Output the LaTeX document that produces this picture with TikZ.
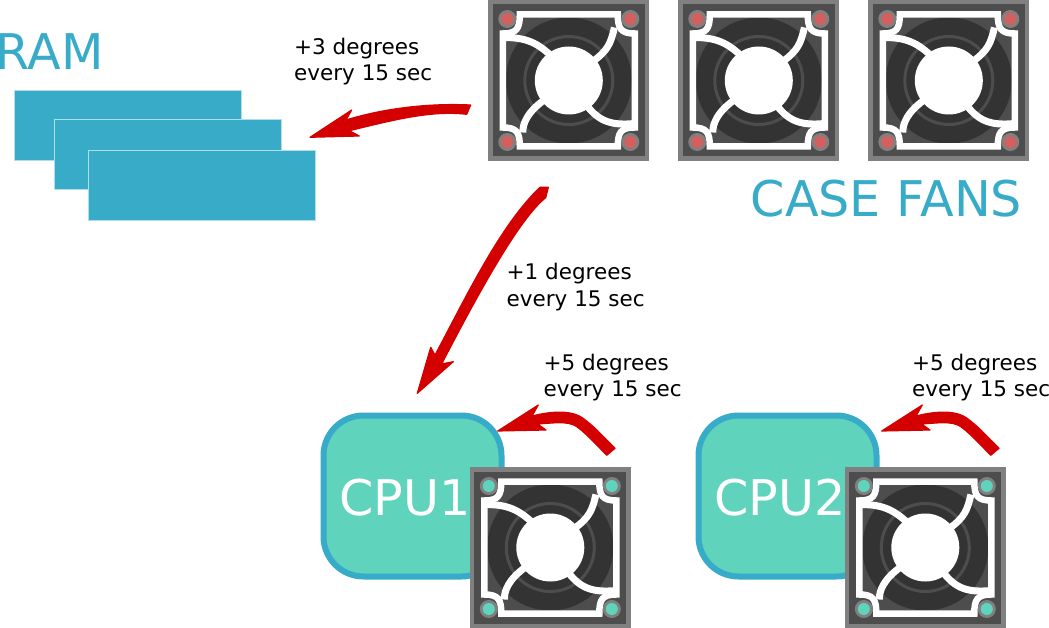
\documentclass[tikz,border=0pt]{standalone}
\usepackage{fontspec}
\setmainfont{DejaVu Sans}
\definecolor{hotred}{HTML}{D40000}
\definecolor{ramblue}{HTML}{37ABC8}
\definecolor{ramedge}{HTML}{AFDDE9}
\definecolor{cpugreen}{HTML}{5FD3BC}
\definecolor{fanrim}{HTML}{808080}
\definecolor{fanbody}{HTML}{4D4D4D}
\definecolor{fandisc}{HTML}{333333}
\definecolor{fanpin}{HTML}{D35F5F}
\tikzset{
    ramstick/.style={rectangle, fill=ramblue, draw=ramedge, line width=0.6pt, inner sep=0pt, minimum width=227pt, minimum height=70pt},
    cpubox/.style={rectangle, fill=cpugreen, draw=ramblue, line width=6pt, rounded corners=40pt, inner sep=0pt, minimum width=178pt, minimum height=161pt},
    bigtext/.style={anchor=base west, inner sep=0pt, font=\fontsize{49.2}{49.2}\selectfont},
    heatnote/.style={anchor=base west, inner sep=0pt, align=left, font=\fontsize{21.5}{26.7}\selectfont},
    swoosh/.style={fill=hotred, draw=hotred, line width=1.2pt, line join=round},
    pics/casefan/.style={code={
        \fill[fanrim] (-80.5,-80.5) rectangle (80.5,80.5);
        \fill[fanbody] (-76,-76) rectangle (76,76);
        \fill[fandisc] (0,0) circle (63);
        \draw[fanbody, line width=3pt] (0,0) circle (44);
        % Frame with notches round the pins
        \draw[white, line width=6.5pt, miter limit=3] (-49,-66) -- (49,-66)
            .. controls (49,-52) and (52,-47) .. (66,-47) -- (66,47)
            .. controls (52,47) and (49,52) .. (49,66) -- (-49,66)
            .. controls (-49,52) and (-52,47) .. (-66,47) -- (-66,-47)
            .. controls (-52,-47) and (-49,-52) .. (-49,-66) -- cycle;
        % Blades
        \draw[white, line width=7pt] (-66,-43) .. controls (-46,-43) and (-34,-40) .. (-18,-25);
        \draw[white, line width=7pt] (45.6,-53) .. controls (42,-37) and (39,-30) .. (24,-19);
        \draw[white, line width=7pt] (18,25) .. controls (31,42) and (44,45) .. (66,43);
        \draw[white, line width=7pt] (-24,19) .. controls (-42,32) and (-46,43) .. (-46,52);
        \fill[white] (0,0) circle (34);
        % Pins
        \foreach \sx/\sy in {-1/-1, 1/-1, 1/1, -1/1} {
            \fill[fanrim] (\sx*61.5,\sy*61.5) circle (9);
            \fill[#1] (\sx*61.5,\sy*61.5) circle (6);
        }
    }},
}
\begin{document}
\begin{tikzpicture}[x=1pt, y=-1pt]
\useasboundingbox (0,0) rectangle (1049,628);
% RAM
\node[bigtext, text=ramblue] (ramlabel) at (-5,69.3) {RAM};
\foreach \name/\cx/\cy in {ramA/127.3/125.5, ramB/167.3/154.5, ramC/201.3/185.5} {
    \node[ramstick] (\name) at (\cx,\cy) {};
}
% Case fans
\foreach \name/\cx in {fanA/568.8, fanB/758.8, fanC/948.8} {
    \pic (\name) at (\cx,80.5) {casefan=fanpin};
}
\node[bigtext, text=ramblue] (caselabel) at (750.5,217) {CASE FANS};
% CPUs with their fans on top
\foreach \name/\cx/\lab/\tx in {cpuA/412.5/CPU1/339, cpuB/787.5/CPU2/714} {
    \node[cpubox] (\name) at (\cx,496) {};
    \node[bigtext, text=white] (\name text) at (\tx,515) {\lab};
    \pic (\name fan) at (\cx+137.8,547.5) {casefan=cpugreen};
}
% Arrow tips and tails
\coordinate (ramtip) at (310,137.3);
\coordinate (ramtail) at (470.7,105);
\coordinate (cputip) at (417.3,393.3);
\coordinate (cputail) at (548.3,187.3);
\coordinate (fanAtip) at (497.7,431);
\coordinate (fanBtip) at (881.7,431);
% Red arrows
\fill[swoosh] (ramtip) -- (351.7,110) -- (346,120) .. controls (385,108) and (430,103) .. (ramtail)
    -- (466.7,114.3) .. controls (430,110) and (390,121) .. (349.3,130.7) -- (359.3,136) -- cycle;
\fill[swoosh] (cputip) -- (430.7,347.3) -- (435,355) .. controls (465,299) and (500,225) .. (540,187.3)
    -- (cputail) -- (545.7,197.7) .. controls (520,218) and (480,290) .. (441.7,364) -- (453.3,361.7) -- cycle;
\foreach \tip in {fanAtip, fanBtip} {
    \begin{scope}[shift={(\tip)}]
    \fill[swoosh] (0,0) -- (40.6,-26) -- (34.3,-15) .. controls (50,-19) and (72,-22) .. (85,-13)
        .. controls (95,-6) and (105,5) .. (117.3,17.3) -- (109,24.3)
        .. controls (97,12) and (87,1) .. (78,-5) .. controls (70,-10) and (55,-8) .. (40,-7) -- (48.3,-1) -- cycle;
    \end{scope}
}
% Notes
\node[heatnote] (noteram) at (294,81) {+3 degrees\\every 15 sec};
\node[heatnote] (notecase) at (506.5,306) {+1 degrees\\every 15 sec};
\node[heatnote] (notecpuA) at (543.5,396.7) {+5 degrees\\every 15 sec};
\node[heatnote] (notecpuB) at (912,396.7) {+5 degrees\\every 15 sec};
\end{tikzpicture}
\end{document}
